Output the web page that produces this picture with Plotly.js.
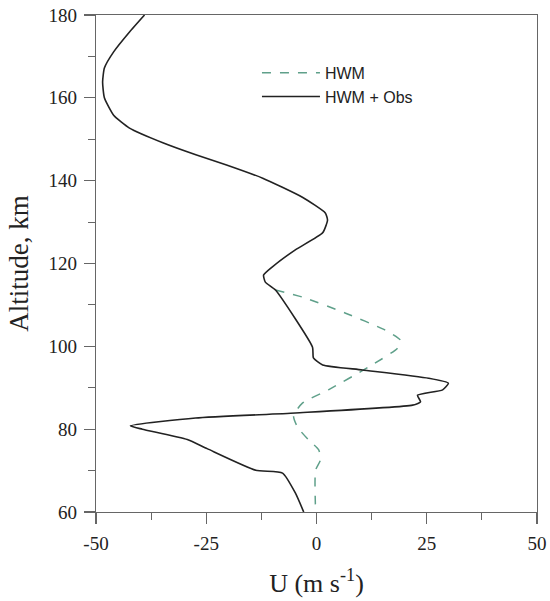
<!DOCTYPE html>
<html>
<head>
<meta charset="utf-8">
<script src="https://cdn.plot.ly/plotly-3.0.1.min.js"></script>
<style>html,body{margin:0;padding:0;background:#fff;}#chart{width:550px;height:601px;}</style>
</head>
<body>
<div id="chart"></div>
<script>
// HWM + Obs (solid black)
const obsAlt = [180, 175.9, 171.1, 167.2, 163.8, 160.0, 155.8, 152.7, 149.1, 146.2, 143.8, 140.6, 136.0, 132.2, 130.5, 127.4, 123.3, 119.2, 117.2, 115.5, 113.6, 99.8, 97.2, 95.5, 94.3, 92.3, 91.1, 89.5, 88.2, 86.6, 85.8, 83.9, 82.7, 80.8, 80.0, 77.5, 75.3, 70.1, 69.4, 64.6, 60];
const obsU   = [-39.0, -42.4, -46.0, -48.1, -48.5, -48.1, -46.0, -42.4, -34.7, -27.2, -20.4, -12.2, -3.2, 2.0, 2.5, 1.4, -4.8, -10.0, -12.0, -11.6, -9.3, -0.9, -0.7, 1.4, 10.4, 25.4, 29.9, 28.6, 22.9, 23.6, 21.8, -4.8, -27.4, -42.2, -39.5, -29.3, -24.8, -13.8, -7.7, -4.8, -2.9];
// HWM (dashed green)
const hwmAlt = [113.6, 111.9, 108.0, 103.9, 101.5, 99.6, 95.0, 89.5, 86.3, 83.2, 80.5, 77.4, 75.0, 72.6, 70.1, 60];
const hwmU   = [-9.3, -3.2, 6.6, 15.6, 19.0, 18.4, 11.8, 2.7, -3.2, -5.2, -4.3, -1.8, 0.5, 0.9, -0.2, -0.2];
const xTicks = [-50, -25, 0, 25, 50];
const yTicks = [60, 80, 100, 120, 140, 160, 180];

const serif = 'Liberation Serif, Times New Roman, serif';
const traces = [
  {x: hwmU, y: hwmAlt, type: 'scatter', mode: 'lines', name: 'HWM',
   line: {color: '#5fa08a', width: 1.5, dash: 'dash', shape: 'spline', smoothing: 0.6}},
  {x: obsU, y: obsAlt, type: 'scatter', mode: 'lines', name: 'HWM + Obs',
   line: {color: '#222', width: 1.6, shape: 'spline', smoothing: 0.5}}
];
const axisCommon = {
  showgrid: false, zeroline: false, showline: true, mirror: true,
  linecolor: '#666', linewidth: 1.3, ticks: 'outside', ticklen: 11, tickwidth: 1.2, tickcolor: '#666',
  ticklabelstandoff: 3,
  tickfont: {family: serif, size: 19, color: '#222'}
};
const layout = {
  width: 550, height: 601,
  margin: {l: 96, r: 13, t: 15, b: 89},
  paper_bgcolor: '#fff', plot_bgcolor: '#fff',
  showlegend: true,
  legend: {x: 0.365, y: 0.918, xanchor: 'left', yanchor: 'top', bgcolor: 'rgba(0,0,0,0)',
           font: {family: 'Liberation Sans, Arial, sans-serif', size: 16, color: '#222'},
           itemwidth: 58, tracegroupgap: 0},
  xaxis: Object.assign({}, axisCommon, {
    range: [-50, 50], tickmode: 'array', tickvals: xTicks, ticktext: xTicks.map(String),
    minor: {dtick: 12.5, tick0: -50, ticks: 'outside', ticklen: 7, tickcolor: '#666', tickwidth: 1},
    title: {text: 'U (m s<sup>-1</sup>)', font: {family: serif, size: 26, color: '#222'}, standoff: 20}
  }),
  yaxis: Object.assign({}, axisCommon, {
    range: [60, 180], tickmode: 'array', tickvals: yTicks, ticktext: yTicks.map(String),
    minor: {dtick: 10, tick0: 60, ticks: 'outside', ticklen: 7, tickcolor: '#666', tickwidth: 1},
    title: {text: 'Altitude, km', font: {family: serif, size: 27, color: '#222'}, standoff: 12}
  })
};
Plotly.newPlot('chart', traces, layout, {displayModeBar: false, staticPlot: true});
</script>
</body>
</html>
